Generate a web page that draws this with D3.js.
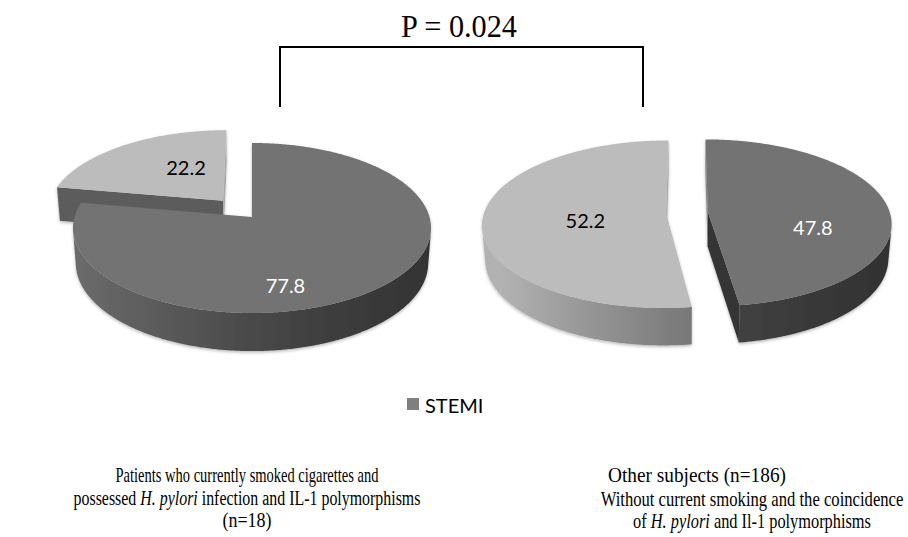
<!DOCTYPE html>
<html>
<head>
<meta charset="utf-8">
<script src="https://cdn.jsdelivr.net/npm/d3@7"></script>
<style>
  html, body { margin: 0; padding: 0; background: #ffffff; }
  svg { display: block; }
</style>
</head>
<body>
<svg id="chart" width="908" height="537"></svg>
<script>
// ---- data -------------------------------------------------------------
const categories = ["STEMI", "Non-STEMI"];
const leftValues = [77.8, 22.2];   // smokers with H. pylori + IL-1 polymorphisms (n=18)
const rightValues = [47.8, 52.2];  // other subjects (n=186)
const legendLabels = ["STEMI"];
const pValueText = "P = 0.024";
const leftCaption = [
  "Patients who currently smoked cigarettes and",
  "possessed *H. pylori* infection and IL-1 polymorphisms",
  "(n=18)"
];
const rightCaption = [
  "Other subjects (n=186)",
  "Without current smoking and the coincidence",
  "of *H. pylori* and Il-1 polymorphisms"
];

// ---- styling ----------------------------------------------------------
const topFill = ["#737373", "#bcbcbc"];
const sideBase = ["#6c6c6c", "#b2b2b2"];
const radialFill = ["#363636", "#5c5c5c"];
const radialBackFill = ["#8a8a8a", "#a9a9a9"];
const labelFill = ["#ffffff", "#000000"];
const sideShade = [1, 0.83, 0.68, 0.56, 0.47];

// camera for the tilted pies (unit radius)
const camElev = Math.asin(0.471);
const camDist = 6.82;
const thickness = 0.225;

const pies = [
  { values: leftValues, cx: 252, cy: 217, fx: 177.5, fy: 177.5,
    explode: [0, 0.26],
    labels: [[167.1, 0.763], [331.9, 0.50]] },
  { values: rightValues, cx: 687, cy: 212.7, fx: 182, fy: 174.5,
    explode: [0.115, 0.115],
    labels: [[108.1, 0.59], [258.1, 0.446]] }
];

const svg = d3.select("#chart");
const defs = svg.append("defs");

const shadow = defs.append("filter").attr("id", "pieShadow")
  .attr("x", "-10%").attr("y", "-10%").attr("width", "120%").attr("height", "130%");
shadow.append("feDropShadow").attr("dx", 0).attr("dy", 1.5)
  .attr("stdDeviation", 1.6).attr("flood-color", "#000").attr("flood-opacity", 0.28);

const pieLayout = d3.pie().sort(null).startAngle(0).endAngle(2 * Math.PI);
const line = d3.line();
const ce = Math.cos(camElev), se = Math.sin(camElev);

function projector(p) {
  return (X, Y, Z) => {
    const yc = Y * ce - Z * se;
    const dc = camDist - Y * se - Z * ce;
    return [p.cx + p.fx * camDist * X / dc, p.cy - p.fy * camDist * yc / dc];
  };
}
// camera position in world space
const cam = [0, camDist * se, camDist * ce];

pies.forEach((p, pi) => {
  const proj = projector(p);
  const g = svg.append("g").attr("filter", "url(#pieShadow)");
  const arcs = pieLayout(p.values);

  // horizontal shading for the outer rims
  categories.forEach((c, ci) => {
    const grad = defs.append("linearGradient")
      .attr("id", `side-${pi}-${ci}`)
      .attr("gradientUnits", "userSpaceOnUse")
      .attr("x1", p.cx - p.fx * 1.02).attr("x2", p.cx + p.fx * 1.02)
      .attr("y1", 0).attr("y2", 0);
    sideShade.forEach((k, i) => {
      const b = d3.rgb(sideBase[ci]);
      grad.append("stop").attr("offset", i / (sideShade.length - 1))
        .attr("stop-color", d3.rgb(b.r * k, b.g * k, b.b * k).formatHex());
    });
  });

  const slices = arcs.map((a, i) => {
    const mid = (a.startAngle + a.endAngle) / 2;
    const d = p.explode[i];
    const ox = d * Math.sin(mid), oz = -d * Math.cos(mid);
    const cz = oz - 0.5 * Math.cos(mid);
    return { a, i, ox, oz, depth: camDist - cz * ce };
  });
  // far slices first
  slices.sort((s1, s2) => s2.depth - s1.depth);

  slices.forEach(s => {
    const { a, i, ox, oz } = s;
    const rim = (t, Y) => proj(ox + Math.sin(t), Y, oz - Math.cos(t));
    const ctr = Y => proj(ox, Y, oz);
    const sg = g.append("g");

    // radial cut faces
    [[a.startAngle, -1], [a.endAngle, 1]].forEach(([ang, dir]) => {
      const phi = ang + dir * Math.PI / 2;
      const n = [Math.sin(phi), 0, -Math.cos(phi)];
      const P = [ox + 0.5 * Math.sin(ang), -thickness / 2, oz - 0.5 * Math.cos(ang)];
      const dot = (cam[0] - P[0]) * n[0] + (cam[1] - P[1]) * n[1] + (cam[2] - P[2]) * n[2];
      if (dot <= 1e-6) return;
      const back = Math.abs(Math.sin(ang)) < 1e-6 && Math.cos(ang) > 0;
      sg.append("path")
        .attr("d", line([ctr(0), rim(ang, 0), rim(ang, -thickness), ctr(-thickness)]) + "Z")
        .attr("fill", back ? radialBackFill[i] : radialFill[i]);
    });

    // outer rim, visible runs only
    const N = Math.max(8, Math.ceil((a.endAngle - a.startAngle) / (Math.PI / 360)));
    const ts = d3.range(N + 1).map(k => a.startAngle + (a.endAngle - a.startAngle) * k / N);
    const vis = t => (-ox * Math.sin(t) + oz * Math.cos(t) - camDist * ce * Math.cos(t) - 1) > 0;
    let run = [];
    const flush = () => {
      if (run.length > 1) {
        const pts = run.map(t => rim(t, 0)).concat(run.slice().reverse().map(t => rim(t, -thickness)));
        sg.append("path").attr("d", line(pts) + "Z").attr("fill", `url(#side-${pi}-${i})`);
      }
      run = [];
    };
    ts.forEach(t => { if (vis(t)) run.push(t); else flush(); });
    flush();

    // top face
    const topPts = [ctr(0)].concat(ts.map(t => rim(t, 0)));
    sg.append("path").attr("d", line(topPts) + "Z").attr("fill", topFill[i]);
  });

  // value labels
  slices.forEach(s => {
    const [angDeg, r] = p.labels[s.i];
    const t = angDeg * Math.PI / 180;
    const pos = proj(s.ox + r * Math.sin(t), 0, s.oz - r * Math.cos(t));
    svg.append("text")
      .attr("x", pos[0]).attr("y", pos[1]).attr("dy", "0.36em")
      .attr("text-anchor", "middle")
      .attr("font-family", "Lato, 'Open Sans', sans-serif")
      .attr("font-size", 20)
      .attr("fill", labelFill[s.i])
      .text(d3.format(".1f")(p.values[s.i]));
  });
});

// ---- significance bracket ----------------------------------------------
svg.append("path")
  .attr("d", "M280,107V47H643V107")
  .attr("fill", "none").attr("stroke", "#000").attr("stroke-width", 2);

function fitText(sel, width) {
  const w = sel.node().getComputedTextLength();
  const k = width / w;
  const x = +sel.attr("data-x"), y = +sel.attr("data-y");
  sel.attr("transform", `translate(${x},${y}) scale(${k},1)`);
}

const title = svg.append("text")
  .attr("data-x", 459).attr("data-y", 37)
  .attr("text-anchor", "middle")
  .attr("font-family", "'Liberation Serif', 'Times New Roman', serif")
  .attr("font-size", 32).attr("fill", "#000")
  .text(pValueText);
fitText(title, 116);

// ---- legend --------------------------------------------------------------
const legend = svg.append("g").attr("transform", "translate(407,398)");
legendLabels.forEach((lab, i) => {
  legend.append("rect").attr("x", 0).attr("y", 0).attr("width", 12).attr("height", 12)
    .attr("fill", "#7f7f7f");
  legend.append("text").attr("x", 18).attr("y", 15)
    .attr("font-family", "Lato, 'Open Sans', sans-serif")
    .attr("font-size", 20).attr("fill", "#000").text(lab);
});

// ---- captions --------------------------------------------------------------
function caption(lines, xs, ys, widths) {
  lines.forEach((ln, i) => {
    const t = svg.append("text")
      .attr("data-x", xs[i]).attr("data-y", ys[i])
      .attr("text-anchor", "middle")
      .attr("font-family", "'Liberation Serif', 'Times New Roman', serif")
      .attr("font-size", 20.5).attr("fill", "#000");
    ln.split("*").forEach((seg, k) => {
      t.append("tspan").attr("font-style", k % 2 ? "italic" : "normal").text(seg);
    });
    fitText(t, widths[i]);
  });
}
caption(leftCaption, [247, 247, 247], [482, 505, 527], [263, 347, 49]);
caption(rightCaption, [697, 752, 752], [482, 506, 528], [178, 303, 238]);
</script>
</body>
</html>
